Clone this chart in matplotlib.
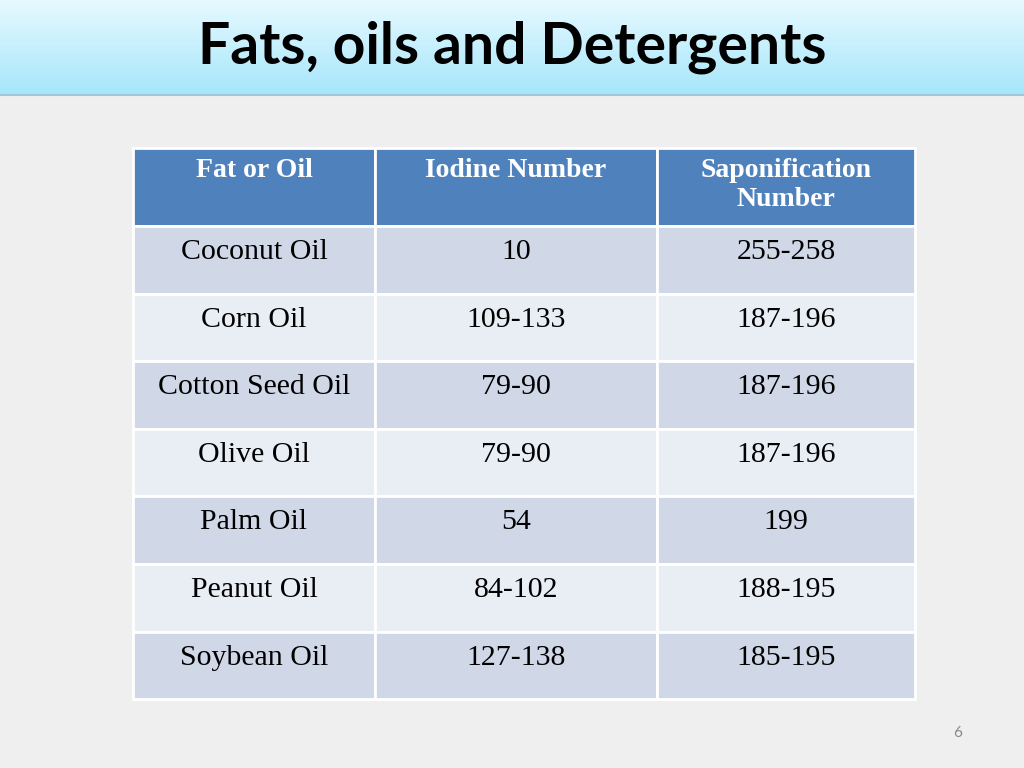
import matplotlib
matplotlib.use("Agg")
import matplotlib.pyplot as plt
from matplotlib.patches import Rectangle
from matplotlib.colors import LinearSegmentedColormap
import numpy as np

title = "Fats, oils and Detergents"
headers = ["Fat or Oil", "Iodine Number", "Saponification\nNumber"]
fats = ["Coconut Oil", "Corn Oil", "Cotton Seed Oil", "Olive Oil", "Palm Oil", "Peanut Oil", "Soybean Oil"]
iodine = ["10", "109-133", "79-90", "79-90", "54", "84-102", "127-138"]
sapon = ["255-258", "187-196", "187-196", "187-196", "199", "188-195", "185-195"]
page = "6"

fig = plt.figure(figsize=(10.24, 7.68), dpi=100)
fig.patch.set_facecolor("#efefef")
ax = fig.add_axes([0, 0, 1, 1])
ax.set_xlim(0, 1024); ax.set_ylim(768, 0); ax.axis("off")

grad = np.linspace(0, 1, 100).reshape(-1, 1)
cm = LinearSegmentedColormap.from_list("g", ["#e6f9ff", "#a6e6fb"])
ax.imshow(grad, cmap=cm, extent=(0, 1024, 95, 0), aspect="auto", zorder=1)
ax.plot([0, 1024], [95, 95], color="#9fc9d8", lw=1.5, zorder=2)
ax.text(512, 47, title, ha="center", va="center", fontsize=41, fontweight="bold",
        family="Lato", color="black", zorder=3)
ax.set_xlim(0, 1024); ax.set_ylim(768, 0)

xs = [133, 375, 657, 915]
header_top, header_bot = 148, 226
row_h = 67.6

def cell(x0, x1, y0, y1, c):
    ax.add_patch(Rectangle((x0, y0), x1 - x0, y1 - y0, facecolor=c, edgecolor="white", lw=2, zorder=2))

for j, h in enumerate(headers):
    cell(xs[j], xs[j + 1], header_top, header_bot, "#4f81bd")
    ax.text((xs[j] + xs[j + 1]) / 2, 158, h, ha="center", va="top",
            fontsize=20, fontweight="bold", family="Liberation Serif", color="white",
            linespacing=1.2, zorder=3)

for i, vals in enumerate(zip(fats, iodine, sapon)):
    y0 = header_bot + i * row_h
    y1 = y0 + row_h
    c = "#d0d8e8" if i % 2 == 0 else "#e9edf4"
    for j, v in enumerate(vals):
        cell(xs[j], xs[j + 1], y0, y1, c)
        ax.text((xs[j] + xs[j + 1]) / 2, y0 + 26, v, ha="center", va="center",
                fontsize=21.5, family="Liberation Serif", color="black", zorder=3)

ax.text(958, 733, page, ha="center", va="center", fontsize=11, color="#888888", family="Lato")
fig.savefig("out.png", dpi=100, facecolor=fig.get_facecolor())
